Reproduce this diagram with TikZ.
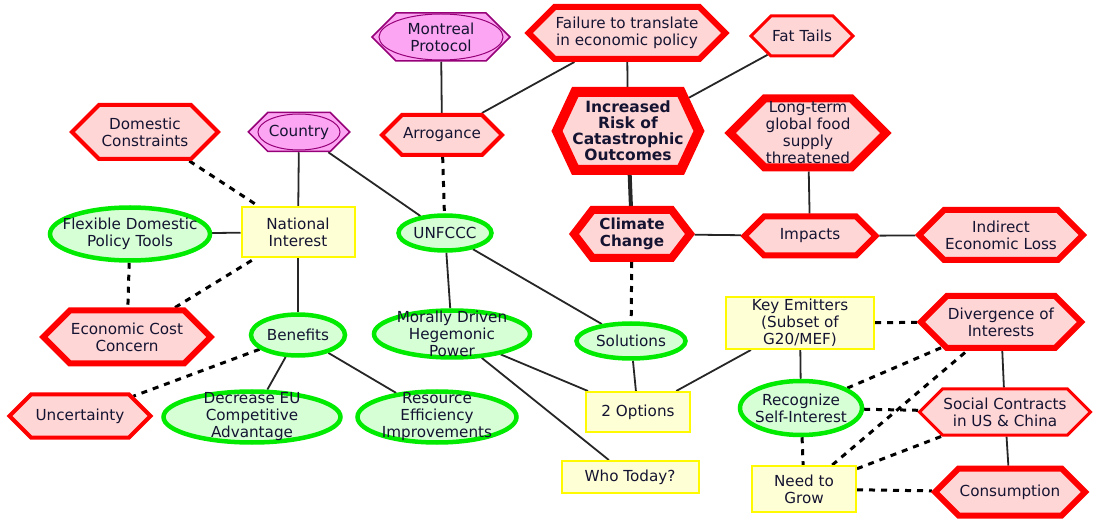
\documentclass[tikz,border=0pt]{standalone}
\usepackage{fontspec}
\setmainfont{DejaVu Sans}
\usetikzlibrary{shapes.geometric,shapes.symbols,backgrounds}

\definecolor{hexred}{RGB}{255,0,0}
\definecolor{hexfill}{RGB}{255,214,214}
\definecolor{ovalgreen}{RGB}{0,235,0}
\definecolor{ovalfill}{RGB}{214,255,214}
\definecolor{boxyellow}{RGB}{255,250,0}
\definecolor{boxfill}{RGB}{255,255,214}
\definecolor{plumline}{RGB}{150,0,120}
\definecolor{plumfill}{RGB}{252,165,242}
\definecolor{inktext}{RGB}{20,20,50}

\tikzset{
	every node/.style={font=\fontsize{15.2}{17}\selectfont, text=inktext, align=center, inner sep=1pt},
	hexnode/.style={signal, signal to=east and west, draw=hexred, fill=hexfill, line width=#1},
	hexnode/.default=4pt,
	ovalnode/.style={ellipse, draw=ovalgreen, fill=ovalfill, line width=4.5pt, inner sep=-20pt},
	boxnode/.style={rectangle, draw=boxyellow, fill=boxfill, line width=2pt},
	plumnode/.style 2 args={signal, signal to=east and west, draw=plumline, fill=plumfill, line width=1.5pt,
		path picture={\draw[plumline, line width=1pt] (path picture bounding box.center) ellipse (#1 and #2);}},
	link/.style={draw=black!85, line width=1.8pt},
	dashlink/.style={draw=black, line width=3pt, dash pattern=on 6pt off 6pt}
}

\begin{document}
\begin{tikzpicture}[x=1pt, y=-1pt]
		\useasboundingbox (0,0) rectangle (1093,521);
		
		% top row
		\node[plumnode={62pt}{23pt}, minimum width=138pt, minimum height=48pt] (montreal) at (441,37) {Montreal\\Protocol};
		\node[hexnode=6pt, minimum width=194pt, minimum height=52pt] (failure) at (627,33) {Failure to translate\\in economic policy};
		\node[hexnode=3pt, minimum width=91pt, minimum height=40pt] (fattails) at (802,36) {Fat Tails};
		
		\node[hexnode=4pt, minimum width=146pt, minimum height=54pt] (domestic) at (145,132) {Domestic\\Constraints};
		\node[plumnode={41pt}{18pt}, minimum width=93pt, minimum height=39pt] (country) at (299,132) {Country};
		\node[hexnode=4pt, minimum width=118pt, minimum height=40pt] (arrogance) at (442,135) {Arrogance};
		\node[hexnode=10pt, signal pointer angle=130, inner xsep=-4pt, minimum width=142pt, minimum height=78pt, font=\fontsize{15.5}{16}\selectfont\bfseries] (risk) at (628,131) {Increased\\Risk of\\Catastrophic\\Outcomes};
		\node[hexnode=8pt, minimum width=152pt, minimum height=69pt] (longterm) at (808,133) {Long-term\\global food\\supply\\threatened};
		
		% middle row
		\node[ovalnode, minimum width=160pt, minimum height=53pt] (flexible) at (130,234) {Flexible Domestic\\Policy Tools};
		\node[boxnode, minimum width=113pt, minimum height=50pt] (national) at (298,232) {National\\Interest};
		\node[ovalnode, minimum width=93pt, minimum height=35pt] (unfccc) at (445,233) {UNFCCC};
		\node[hexnode=8pt, signal pointer angle=105, minimum width=116pt, minimum height=48pt, font=\fontsize{15.2}{17}\selectfont\bfseries] (climate) at (632,234) {Climate\\Change};
		\node[hexnode=6pt, minimum width=131pt, minimum height=39pt] (impacts) at (810,236) {Impacts};
		\node[hexnode=6pt, minimum width=158pt, minimum height=50pt] (indirect) at (1001,235) {Indirect\\Economic Loss};
		
		\node[hexnode=6pt, minimum width=162pt, minimum height=53pt] (econcost) at (127,337) {Economic Cost\\Concern};
		\node[ovalnode, minimum width=94pt, minimum height=41pt] (benefits) at (298,335) {Benefits};
		\node[ovalnode, minimum width=156pt, minimum height=47pt] (morally) at (452,334) {Morally Driven\\Hegemonic\\Power};
		\node[ovalnode, minimum width=109pt, minimum height=35pt] (solutions) at (631,341) {Solutions};
		\node[boxnode, minimum width=148pt, minimum height=52pt] (keyemit) at (800,323) {Key Emitters\\(Subset of\\G20/MEF)};
		\node[hexnode=6pt, minimum width=145pt, minimum height=52pt] (divergence) at (1001,322) {Divergence of\\Interests};
		
		% bottom rows
		\node[hexnode=4pt, minimum width=141pt, minimum height=43pt] (uncertainty) at (80,416) {Uncertainty};
		\node[ovalnode, minimum width=177pt, minimum height=51pt] (decrease) at (252,417) {Decrease EU\\Competitive\\Advantage};
		\node[ovalnode, minimum width=159pt, minimum height=51pt] (resource) at (437,417) {Resource\\Efficiency\\Improvements};
		\node[boxnode, minimum width=104pt, minimum height=40pt] (twoopt) at (638,412) {2 Options};
		\node[ovalnode, minimum width=122pt, minimum height=54pt] (recognize) at (801,408) {Recognize\\Self-Interest};
		\node[hexnode=3pt, minimum width=171pt, minimum height=46pt] (social) at (1005,412) {Social Contracts\\in US \& China};
		\node[boxnode, minimum width=137pt, minimum height=32pt] (whotoday) at (630,477) {Who Today?};
		\node[boxnode, minimum width=104pt, minimum height=46pt] (needgrow) at (804,489) {Need to\\Grow};
		\node[hexnode=6pt, minimum width=150pt, minimum height=47pt] (consumption) at (1010,492) {Consumption};
		
		\begin{scope}[on background layer]
		\draw[link] (montreal) -- (arrogance);
		\draw[link] (arrogance) -- (failure);
		\draw[link] (failure) -- (risk);
		\draw[link] (risk) -- (fattails);
		\draw[link, line width=4pt] (risk) -- (climate);
		\draw[link] (country) -- (national);
		\draw[link] (country) -- (unfccc);
		\draw[link] (flexible) -- (national);
		\draw[link] (national) -- (benefits);
		\draw[link] (climate) -- (impacts);
		\draw[link] (longterm) -- (impacts);
		\draw[link] (impacts) -- (indirect);
		\draw[link] (unfccc) -- (morally);
		\draw[link] (unfccc) -- (solutions);
		\draw[link] (benefits) -- (decrease);
		\draw[link] (benefits) -- (resource);
		\draw[link] (morally) -- (twoopt);
		\draw[link] (morally) -- (whotoday);
		\draw[link] (solutions) -- (twoopt);
		\draw[link] (twoopt) -- (keyemit);
		\draw[link] (keyemit) -- (recognize);
		\draw[link] (divergence) -- (social);
		\draw[link] (social) -- (consumption);
		
		\draw[dashlink] (domestic) -- (national);
		\draw[dashlink] (flexible) -- (econcost);
		\draw[dashlink] (econcost) -- (national);
		\draw[dashlink] (arrogance) -- (unfccc);
		\draw[dashlink] (climate) -- (solutions);
		\draw[dashlink] (benefits) -- (uncertainty);
		\draw[dashlink] (keyemit) -- (divergence);
		\draw[dashlink] (recognize) -- (divergence);
		\draw[dashlink] (recognize) -- (social);
		\draw[dashlink] (recognize) -- (needgrow);
		\draw[dashlink] (needgrow) -- (divergence);
		\draw[dashlink] (needgrow) -- (social);
		\draw[dashlink] (needgrow) -- (consumption);
		\end{scope}
\end{tikzpicture}
\end{document}
